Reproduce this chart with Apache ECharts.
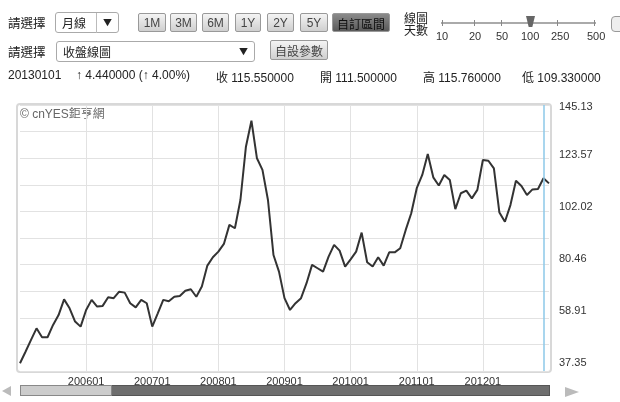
<!DOCTYPE html>
<html><head><meta charset="utf-8">
<script src="https://cdn.jsdelivr.net/npm/echarts@6/dist/echarts.min.js"></script>
<style>
body{margin:0;width:620px;height:402px;overflow:hidden;background:#fff;font-family:"Noto Sans CJK TC","Liberation Sans",sans-serif;color:#222;}
#c{position:absolute;left:0;top:0;width:620px;height:402px;}
.a{position:absolute;font-size:12px;white-space:nowrap;}
.n{font-family:'Liberation Sans','Noto Sans CJK TC';}
.btn{position:absolute;top:13px;height:19px;line-height:19px;text-align:center;font-size:12px;background:linear-gradient(#f4f4f4,#cfcfcf);border:1px solid #999;border-radius:2px;font-family:"Liberation Sans",sans-serif;color:#444;box-sizing:border-box;}
.sel{position:absolute;height:21px;background:#fff;border:1px solid #aaa;border-radius:3px;font-size:12px;line-height:20px;padding-left:6px;box-sizing:border-box;}
.t{position:absolute;top:30px;font-size:11px;font-family:'Liberation Sans';color:#333;}
.tk{position:absolute;top:20px;width:1px;height:6px;background:#888;}
</style></head><body>
<div id="c"></div>
<div class="a" style="left:8px;top:13px;font-size:12.5px;">請選擇</div>
<div class="sel" style="left:55px;top:12px;width:64px;">月線<span style="position:absolute;left:40px;top:0;border-left:1px solid #bbb;padding-left:6px;font-size:9px;">▼</span></div>
<div class="btn" style="left:138px;width:28px;">1M</div>
<div class="btn" style="left:170px;width:27px;">3M</div>
<div class="btn" style="left:202px;width:27px;">6M</div>
<div class="btn" style="left:235px;width:26px;">1Y</div>
<div class="btn" style="left:267px;width:27px;">2Y</div>
<div class="btn" style="left:300px;width:28px;">5Y</div>
<div class="btn" style="left:332px;width:58px;background:linear-gradient(#8a8a8a,#5a5a5a);color:#111;font-family:'Noto Sans CJK TC';">自訂區間</div>
<div class="a" style="left:404px;top:12px;line-height:12px;font-size:12px;">線圖<br>天數</div>
<div style="position:absolute;left:441px;top:22px;width:155px;height:2px;background:#aaa;"></div>
<div class="tk" style="left:442px"></div><div class="tk" style="left:474px"></div><div class="tk" style="left:501px"></div><div class="tk" style="left:557px"></div><div class="tk" style="left:594px"></div>
<div class="t" style="left:436px">10</div>
<div class="t" style="left:469px">20</div>
<div class="t" style="left:496px">50</div>
<div class="t" style="left:521px">100</div>
<div class="t" style="left:551px">250</div>
<div class="t" style="left:587px">500</div>
<div style="position:absolute;left:526px;top:16px;width:9px;height:11px;background:#666;clip-path:polygon(0 0,100% 0,70% 100%,30% 100%);"></div>
<div style="position:absolute;left:611px;top:16px;width:14px;height:14px;border:1px solid #999;border-radius:4px;background:#eee;"></div>
<div class="a" style="left:8px;top:42px;font-size:12.5px;">請選擇</div>
<div class="sel" style="left:56px;top:41px;width:199px;">收盤線圖<span style="position:absolute;left:182px;top:0;font-size:9px;">▼</span></div>
<div class="btn" style="left:270px;top:40px;width:58px;height:20px;font-family:'Noto Sans CJK TC';">自設參數</div>
<div class="a n" style="left:8px;top:68px;">20130101</div>
<div class="a n" style="left:76px;top:68px;">↑ 4.440000 (↑ 4.00%)</div>
<div class="a n" style="left:216px;top:68px;">收 115.550000</div>
<div class="a n" style="left:320px;top:68px;">開 111.500000</div>
<div class="a n" style="left:423px;top:68px;">高 115.760000</div>
<div class="a n" style="left:522px;top:68px;">低 109.330000</div>
<div style="position:absolute;left:20px;top:385px;width:530px;height:11px;background:#6e6e6e;border:1px solid #555;box-sizing:border-box;"></div>
<div style="position:absolute;left:20px;top:385px;width:92px;height:11px;background:#ccc;border:1px solid #888;box-sizing:border-box;"></div>
<div style="position:absolute;left:2px;top:386px;width:0;height:0;border-top:5px solid transparent;border-bottom:5px solid transparent;border-right:9px solid #bbb;"></div>
<div style="position:absolute;left:565px;top:387px;width:0;height:0;border-top:5px solid transparent;border-bottom:5px solid transparent;border-left:14px solid #bbb;"></div>
<script>
const startYear = 2005;
const values = [37.2,42.0,46.9,51.7,48.0,48.0,53.1,57.2,63.7,60.0,54.5,52.4,
59.3,63.5,60.7,61.0,64.6,64.2,66.9,66.5,62.1,60.4,63.5,62.1,
52.4,57.9,63.5,62.9,64.8,65.1,67.3,67.9,64.8,69.0,77.7,81.2,
83.5,86.7,94.6,93.2,104.9,127.0,137.8,122.2,117.4,104.9,82.1,75.2,
64.2,59.3,62.1,64.2,70.4,78.0,76.6,75.2,81.4,86.3,83.9,77.3,
80.3,83.5,91.4,79.1,77.3,81.2,77.7,83.2,83.2,84.9,92.5,99.4,
109.8,115.3,124.0,114.3,110.9,115.3,113.2,101.1,107.7,108.8,105.6,109.1,
121.5,121.2,118.0,99.7,95.9,102.8,112.9,110.7,107.0,109.3,109.5,113.9,
111.8];
const categories = values.map((v,i)=>{const y=startYear+Math.floor(i/12),m=i%12+1;return ''+y+(m<10?'0':'')+m;});
const xLabels = ['200601','200701','200801','200901','201001','201101','201201'];
const tickValues = [37.35,58.91,80.46,102.02,123.57,143.3];
const tickLabels = ['37.35','58.91','80.46','102.02','123.57','145.13'];
const cursorIndex = 95;
const isJan = (i)=>xLabels.indexOf(categories[i])>=0;
const ch = echarts.init(document.getElementById('c'));
ch.setOption({
  animation:false,
  grid:{left:20,right:71,top:105,bottom:31},
  graphic:[
    {type:'rect',shape:{x:17,y:104,width:534,height:268,r:3},style:{fill:'none',stroke:'#d8d8d8',lineWidth:2},z:-1},
    {type:'text',left:20,top:109,style:{text:'© cnYES鉅亨網',fill:'#666',font:'12px "Liberation Sans","Noto Sans CJK TC"'}}
  ],
  xAxis:{type:'category',data:categories,boundaryGap:false,
    axisLine:{show:false},axisTick:{show:false},
    axisLabel:{interval:(i)=>isJan(i),formatter:(v)=>v,color:'#333',fontSize:11,fontFamily:'Liberation Sans',margin:5},
    splitLine:{show:true,interval:(i)=>isJan(i),lineStyle:{color:'#e2e2e2'}}},
  yAxis:[
    {type:'value',position:'right',min:34.0,max:144.3,
     axisLine:{show:false},axisTick:{show:false},splitLine:{show:false},
     axisLabel:{customValues:tickValues,formatter:(v)=>tickLabels[tickValues.indexOf(v)]||'',color:'#333',fontSize:11,fontFamily:'Liberation Sans',margin:10}},
    {type:'value',min:0,max:10,interval:1,show:true,axisLine:{show:false},axisTick:{show:false},axisLabel:{show:false},
     splitLine:{lineStyle:{color:'#e2e2e2'}}}
  ],
  series:[{type:'line',data:values,symbol:'none',lineStyle:{color:'#333',width:2},
    markLine:{symbol:'none',silent:true,label:{show:false},lineStyle:{color:'#8cc8e8',type:'solid',width:1.5},data:[{xAxis:cursorIndex}]}}]
});
</script></body></html>
